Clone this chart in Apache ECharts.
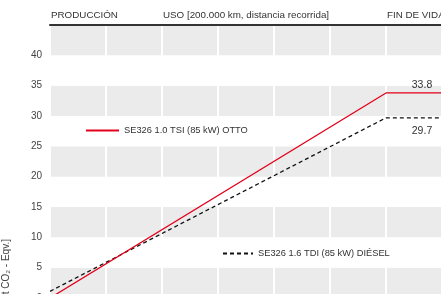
<!DOCTYPE html>
<html>
<head>
<meta charset="utf-8">
<script src="https://cdn.jsdelivr.net/npm/echarts@6/dist/echarts.min.js"></script>
<style>
  html, body { margin: 0; padding: 0; background: #fff; }
  #chart { width: 441px; height: 294px; }
</style>
</head>
<body>
<div id="chart"></div>
<script>
// fases del ciclo de vida (etiquetas en la parte superior, por columna)
var phaseLabels = ['PRODUCCIÓN', '', 'USO [200.000 km, distancia recorrida]', '', '', '', 'FIN DE VIDA']
// posición en columnas de cada punto
var stageX = [0, 6, 7]
var ottoValues = [0, 33.8, 33.8]
var dieselValues = [1.1, 29.7, 29.7]
var ottoName = 'SE326 1.0 TSI (85 kW) OTTO'
var dieselName = 'SE326 1.6 TDI (85 kW) DIÉSEL'
var yName = '[t CO₂ - Eqv.]'

var font = 'Liberation Sans, Arial, sans-serif'
var last = stageX.length - 1

function pairs(xs, ys) {
    return xs.map(function (x, i) { return [x, ys[i]] })
}

function endValue(p) {
    return p.dataIndex === last ? p.value[1].toFixed(1) : ''
}

var chart = echarts.init(document.getElementById('chart'))

var option = {
    animation: false,
    grid: { left: 50, top: 25, width: 392, height: 273, outerBoundsMode: 'none' },
    xAxis: {
        type: 'value',
        position: 'top',
        min: 0,
        max: 7,
        interval: 1,
        axisLine: { show: true, onZero: false, lineStyle: { color: '#333', width: 2 } },
        axisTick: { show: false },
        axisLabel: {
            margin: 5,
            align: 'left',
            padding: [0, 0, 0, 1],
            fontFamily: font,
            fontSize: 9.8,
            color: '#333',
            formatter: function (v) { return phaseLabels[v] || '' }
        },
        splitLine: { show: true, lineStyle: { color: '#fff', width: 2 } }
    },
    yAxis: {
        type: 'value',
        min: 0,
        max: 45,
        interval: 5,
        axisLine: { show: false },
        axisTick: { show: false },
        splitLine: { show: false },
        splitArea: { show: true, areaStyle: { color: ['#ebebeb', '#ffffff'] } },
        axisLabel: {
            showMaxLabel: false,
            margin: 8,
            padding: [0, 0, 8, 0],
            fontFamily: font,
            fontSize: 10,
            color: '#444'
        }
    },
    legend: [
        {
            data: [ottoName],
            left: 85,
            top: 126,
            padding: 0,
            itemWidth: 33,
            itemHeight: 10,
            selectedMode: false,
            itemStyle: { opacity: 0 },
            textStyle: { fontFamily: font, fontSize: 9.3, color: '#333' }
        },
        {
            data: [dieselName],
            left: 222,
            top: 249,
            padding: 0,
            itemWidth: 30,
            itemHeight: 10,
            selectedMode: false,
            itemStyle: { opacity: 0 },
            textStyle: { fontFamily: font, fontSize: 9.3, color: '#333' }
        }
    ],
    graphic: [
        {
            type: 'text',
            x: 6.5,
            y: 239,
            rotation: Math.PI / 2,
            style: {
                text: yName,
                fontFamily: font,
                fontSize: 10,
                fill: '#444',
                align: 'right',
                verticalAlign: 'middle'
            }
        }
    ],
    series: [
        {
            name: dieselName,
            type: 'line',
            symbol: 'circle',
            symbolSize: 0,
            data: pairs(stageX, dieselValues),
            lineStyle: { color: '#111', width: 1.3, type: [4, 3] },
            itemStyle: { color: '#111' },
            label: {
                show: true,
                position: 'bottom',
                formatter: endValue,
                offset: [-20, 3],
                fontFamily: font,
                fontSize: 10.5,
                color: '#333'
            }
        },
        {
            name: ottoName,
            type: 'line',
            symbol: 'circle',
            symbolSize: 0,
            data: pairs(stageX, ottoValues),
            lineStyle: { color: '#e3001b', width: 1.3 },
            itemStyle: { color: '#e3001b' },
            label: {
                show: true,
                position: 'top',
                formatter: endValue,
                offset: [-20, 3],
                fontFamily: font,
                fontSize: 10.5,
                color: '#333'
            }
        }
    ]
}

chart.setOption(option)
</script>
</body>
</html>
